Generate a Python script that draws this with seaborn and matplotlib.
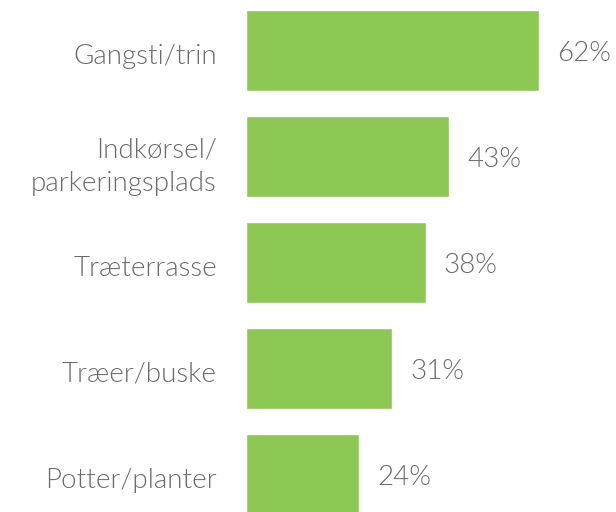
import pandas as pd
import seaborn as sns
import matplotlib.pyplot as plt
import matplotlib.transforms as mtransforms

categories = ["Gangsti/trin", "Indkørsel/\nparkeringsplads", "Træterrasse", "Træer/buske", "Potter/planter"]
values = [62, 43, 38, 31, 24]

df = pd.DataFrame({"kategori": categories, "andel": values})

sns.set_theme(style="white")
plt.rcParams["font.family"] = ["Lato", "DejaVu Sans"]

text_color = "#6b6b6b"
bar_color = "#8cc853"

fig = plt.figure(figsize=(6.16, 5.12), dpi=100)
ax = fig.add_axes([246 / 616, 0, 1 - 246 / 616, 1])

sns.barplot(data=df, x="andel", y="kategori", orient="h", color=bar_color,
            width=0.764, saturation=1, ax=ax)

ax.set_xlim(0, 78.3)
ax.set_ylim(4.354, -0.476)

for i, v in enumerate(values):
    ax.annotate(f"{v}%", xy=(v, i), xytext=(13, -2.5), textcoords="offset points",
                ha="left", va="center", fontsize=20, color=text_color,
                fontweight=300, annotation_clip=False)

ax.set_xlabel("")
ax.set_ylabel("")
ax.set_xticks([])
ax.tick_params(axis="y", length=0, pad=21, labelsize=20, labelcolor=text_color)
shift = mtransforms.ScaledTranslation(0, -2.5 / 72, fig.dpi_scale_trans)
for lbl in ax.get_yticklabels():
    lbl.set_fontweight(300)
    lbl.set_linespacing(1.45)
    lbl.set_transform(lbl.get_transform() + shift)
sns.despine(ax=ax, left=True, bottom=True)

fig.savefig("out.png", dpi=100)
